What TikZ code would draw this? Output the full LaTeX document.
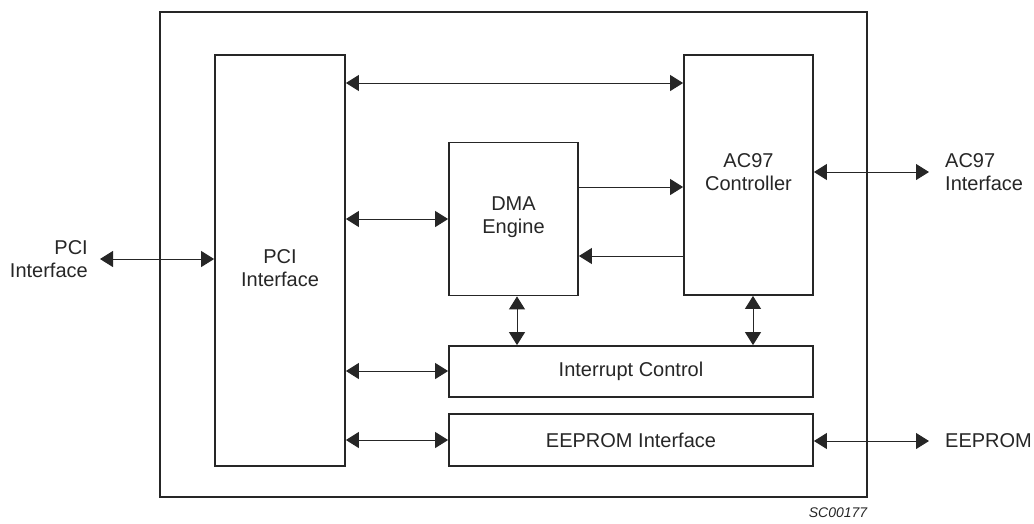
\documentclass[tikz,border=0pt]{standalone}
\usepackage{fontspec}
\setmainfont{Liberation Sans}
\usetikzlibrary{arrows.meta}
\begin{document}
\begin{tikzpicture}[x=1pt,y=-1pt,
  blk/.style={draw=black!85, line width=1.8pt, inner sep=0pt, rectangle},
  lbl/.style={font=\fontsize{20}{23}\selectfont, align=center, text=black!85, inner sep=0pt},
  conn/.style={line width=1pt, draw=black!85, {Triangle[length=13pt,width=16pt]}-{Triangle[length=13pt,width=16pt]}},
  oneway/.style={line width=1pt, draw=black!85, -{Triangle[length=13pt,width=16pt]}}]
\useasboundingbox (0,0) rectangle (1034,523);
% outer box
\node[blk, minimum width=707pt, minimum height=485pt] (outer) at (513.5,254.5) {};
% blocks
\node[blk, minimum width=130pt, minimum height=411pt] (pci) at (280,260.5) {};
\node[lbl] (pcit) at (280,268) {PCI\\Interface};
\node[blk, minimum width=129pt, minimum height=240pt] (ac97) at (748.5,175) {};
\node[lbl] (ac97t) at (748.5,172) {AC97\\Controller};
\node[blk, minimum width=129pt, minimum height=153pt] (dma) at (513.5,219) {};
\node[lbl] (dmat) at (513.5,217) {DMA\\Engine};
\node[blk, minimum width=364pt, minimum height=51pt] (irq) at (631,371.5) {};
\node[blk, minimum width=364pt, minimum height=52pt] (eep) at (631,440) {};
\node[lbl] (irqt) at (631,371.5) {Interrupt Control};
\node[lbl] (eept) at (631,440) {EEPROM Interface};
% external labels
\node[lbl, align=right, anchor=east] (pcix) at (88,259) {PCI\\Interface};
\node[lbl, align=left, anchor=west] (ac97x) at (945,172) {AC97\\Interface};
\node[lbl, anchor=west] (eepx) at (945,441) {EEPROM};
\node[font=\itshape\fontsize{14}{16}\selectfont, text=black!85, inner sep=0pt] (sc) at (838,513) {SC00177};
% external anchors
\coordinate (pcie) at (100,259);
\coordinate (ac97e) at (929,172);
\coordinate (eepe) at (929,441);
% connectors
\draw[conn] (pcie) -- (pcie -| pci.west);
\draw[conn] (ac97.east |- ac97e) -- (ac97e);
\draw[conn] (eep.east |- eepe) -- (eepe);
\draw[conn] (pci.east |- 0,83) -- (ac97.west |- 0,83);
\draw[conn] (pci.east |- 0,219) -- (dma.west |- 0,219);
\draw[conn] (pci.east |- 0,371) -- (irq.west |- 0,371);
\draw[conn] (pci.east |- 0,440) -- (eep.west |- 0,440);
\draw[oneway] (dma.east |- 0,187) -- (ac97.west |- 0,187);
\draw[oneway] (ac97.west |- 0,256) -- (dma.east |- 0,256);
\draw[conn] (dma.south -| 517,0) -- (irq.north -| 517,0);
\draw[conn] (ac97.south -| 753,0) -- (irq.north -| 753,0);
\end{tikzpicture}
\end{document}
